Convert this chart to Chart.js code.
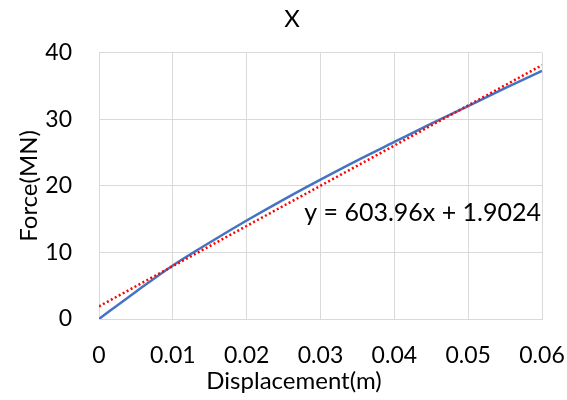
<!DOCTYPE html>
<html>
<head>
<meta charset="utf-8">
<script src="https://cdn.jsdelivr.net/npm/chart.js"></script>
<style>
  html, body { margin: 0; padding: 0; background: #fff; }
  #wrap { width: 567px; height: 400px; }
</style>
</head>
<body>
<div id="wrap"><canvas id="chart"></canvas></div>
<script>
// displacement (m) and force (MN)
const displacement = [0, 0.005, 0.01, 0.015, 0.02, 0.025, 0.03, 0.035, 0.04, 0.045, 0.05, 0.055, 0.06];
const force = [0, 4.1, 8.05, 11.5, 14.8, 17.95, 20.95, 23.85, 26.6, 29.35, 32.0, 34.7, 37.3];

// linear trendline shown on the chart
const slope = 603.96;
const intercept = 1.9024;
const trendX = [0, 0.06];
const trendLabel = 'y = 603.96x + 1.9024';

const xTicks = [0, 0.01, 0.02, 0.03, 0.04, 0.05, 0.06];
const yTicks = [0, 10, 20, 30, 40];
const xTitle = 'Displacement(m)';

const font = 'Lato, "Open Sans", sans-serif';

// trendline equation and the x axis title (which sits left of the plot centre, like Excel)
const extraText = {
  id: 'extraText',
  afterDatasetsDraw(chart) {
    const { ctx, scales } = chart;
    ctx.save();
    ctx.fillStyle = '#000';
    ctx.textBaseline = 'middle';
    ctx.font = '25px ' + font;
    ctx.textAlign = 'right';
    ctx.fillText(trendLabel, scales.x.getPixelForValue(0.06) - 1, scales.y.getPixelForValue(15.9));
    ctx.font = '24px ' + font;
    ctx.textAlign = 'center';
    ctx.fillText(xTitle, 294, scales.x.bottom - 19);
    ctx.restore();
  }
};

new Chart(document.getElementById('chart'), {
  type: 'scatter',
  data: {
    datasets: [
      {
        label: 'Force',
        data: displacement.map((d, i) => ({ x: d, y: force[i] })),
        showLine: true,
        borderColor: '#4472C4',
        borderWidth: 2.5,
        pointRadius: 0,
        cubicInterpolationMode: 'monotone',
        order: 2,
      },
      {
        label: 'Linear',
        data: trendX.map(x => ({ x: x, y: slope * x + intercept })),
        showLine: true,
        borderColor: '#FF0000',
        borderWidth: 2.5,
        borderDash: [2, 2.5],
        pointRadius: 0,
        order: 1,
      },
    ],
  },
  options: {
    responsive: true,
    maintainAspectRatio: false,
    animation: false,
    layout: { padding: { left: 17, right: 0, top: 0, bottom: 0 } },
    plugins: {
      legend: { display: false },
      tooltip: { enabled: false },
      title: {
        display: true,
        text: 'X',
        color: '#000',
        font: { family: font, size: 24, weight: 'normal' },
        padding: { top: 5, bottom: 19 },
      },
    },
    scales: {
      x: {
        type: 'linear',
        min: 0,
        max: 0.06,
        afterBuildTicks: s => { s.ticks = xTicks.map(v => ({ value: v })); },
        afterFit: s => { s.height = 81; s.paddingLeft = 0; s.paddingRight = 25; },
        ticks: {
          color: '#000',
          font: { family: font, size: 23 },
          padding: 23,
          maxRotation: 0,
          callback: v => String(v),
        },
        grid: { color: '#d9d9d9', drawTicks: false, lineWidth: 1 },
        border: { color: '#d9d9d9' },
      },
      y: {
        min: 0,
        max: 40,
        afterBuildTicks: s => { s.ticks = yTicks.map(v => ({ value: v })); },
        afterFit: s => { s.width = 82; s.paddingTop = 0; s.paddingBottom = 0; },
        ticks: {
          color: '#000',
          font: { family: font, size: 23 },
          padding: 27,
        },
        grid: { color: '#d9d9d9', drawTicks: false, lineWidth: 1 },
        border: { color: '#d9d9d9' },
        title: {
          display: true,
          text: 'Force(MN)',
          color: '#000',
          font: { family: font, size: 24, lineHeight: 1 },
          padding: { top: 0, bottom: 0 },
        },
      },
    },
  },
  plugins: [extraText],
});
</script>
</body>
</html>
